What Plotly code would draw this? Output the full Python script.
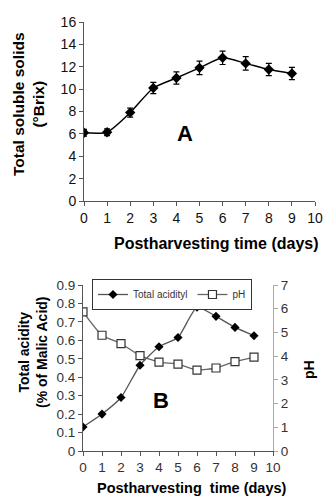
import plotly.graph_objects as go

days = [0, 1, 2, 3, 4, 5, 6, 7, 8, 9]
tss = [6.1, 6.15, 7.9, 10.1, 11.0, 11.9, 12.8, 12.3, 11.75, 11.4]
tss_err = [0.3, 0.3, 0.4, 0.5, 0.55, 0.6, 0.6, 0.6, 0.55, 0.55]
acidity = [0.13, 0.20, 0.29, 0.465, 0.565, 0.615, 0.78, 0.73, 0.67, 0.625]
ph = [5.87, 4.88, 4.53, 4.02, 3.75, 3.66, 3.41, 3.5, 3.77, 3.96]

FONT = "Liberation Sans, Arial, sans-serif"

fig = go.Figure()

fig.add_trace(go.Scatter(
    x=days, y=tss, mode="lines+markers",
    line=dict(color="black", width=1.5, shape="spline", smoothing=0.6),
    marker=dict(symbol="diamond", size=8, color="black"),
    error_y=dict(type="data", array=tss_err, color="black", thickness=1.2, width=3),
    xaxis="x", yaxis="y", showlegend=False))

fig.add_trace(go.Scatter(
    x=days, y=acidity, mode="lines+markers", name="Total acidityl",
    line=dict(color="#555555", width=1.3, shape="spline", smoothing=0.5),
    marker=dict(symbol="diamond", size=7, color="black"),
    xaxis="x2", yaxis="y2"))

fig.add_trace(go.Scatter(
    x=days, y=ph, mode="lines+markers", name="pH",
    line=dict(color="#666666", width=1.3, shape="spline", smoothing=0.5),
    marker=dict(symbol="square", size=8, color="white", line=dict(color="#333333", width=1.2)),
    xaxis="x2", yaxis="y3"))

axis_common = dict(showgrid=False, zeroline=False, showline=True, ticks="outside",
                   ticklen=4, automargin=False)
tf_a = dict(family=FONT, size=14, color="#111111")
tf_b = dict(family=FONT, size=13.5, color="#333333")


def ann(text, x, y, size=14, angle=0):
    return dict(text=text, x=x / 336, y=1 - y / 502, xref="paper", yref="paper",
                xanchor="center", yanchor="middle", textangle=angle, showarrow=False,
                font=dict(family=FONT, size=size, color="black"))


fig.update_layout(
    width=336, height=502,
    margin=dict(l=0, r=0, t=0, b=0, autoexpand=False),
    paper_bgcolor="white", plot_bgcolor="white",
    font=dict(family=FONT, color="black"),
    xaxis=dict(domain=[84/336, 315/336], anchor="y", range=[0, 10], dtick=1,
               linecolor="#555555", tickcolor="#555555", tickfont=tf_a, **axis_common),
    yaxis=dict(domain=[1-201/502, 1-22/502], anchor="x", range=[0, 16], dtick=2,
               linecolor="#555555", tickcolor="#555555", tickfont=tf_a, **axis_common),
    xaxis2=dict(domain=[83/336, 273/336], anchor="y2", range=[0, 10], dtick=1,
                linecolor="#555555", tickcolor="#555555", tickfont=tf_b, **axis_common),
    yaxis2=dict(domain=[1-451/502, 1-285/502], anchor="x2", range=[0, 0.9], dtick=0.1,
                linecolor="#555555", tickcolor="#555555", tickfont=tf_b, **axis_common),
    yaxis3=dict(domain=[1-451/502, 1-285/502], anchor="x2", overlaying="y2", side="right",
                range=[0, 7], dtick=1, linecolor="#aaaaaa", tickcolor="#aaaaaa",
                tickfont=tf_b, **axis_common),
    legend=dict(x=92/336, y=1-279/502, xanchor="left", yanchor="top", orientation="h",
                bordercolor="#333333", borderwidth=1, bgcolor="white",
                font=dict(family=FONT, size=10, color="#333333"),
                itemwidth=30, tracegroupgap=0),
    annotations=[
        ann("<b>Total soluble solids<br>(°Brix)</b>", 28, 104, size=15.5, angle=-90),
        ann("<b>Postharvesting time (days)</b>", 216, 243, size=16),
        ann("<b>A</b>", 185, 133, size=22),
        ann("<b>Total acidity<br>(% of Malic Acid)</b>", 33, 352, size=14, angle=-90),
        ann("<b>pH</b>", 309, 370, size=14, angle=-90),
        ann("<b>Postharvesting  time (days)</b>", 192, 488, size=14.5),
        ann("<b>B</b>", 161, 400, size=22),
    ],
)

fig.write_html("out.html", config={"displayModeBar": False},
               post_script="document.body.style.margin='0';document.body.style.overflow='hidden';")
